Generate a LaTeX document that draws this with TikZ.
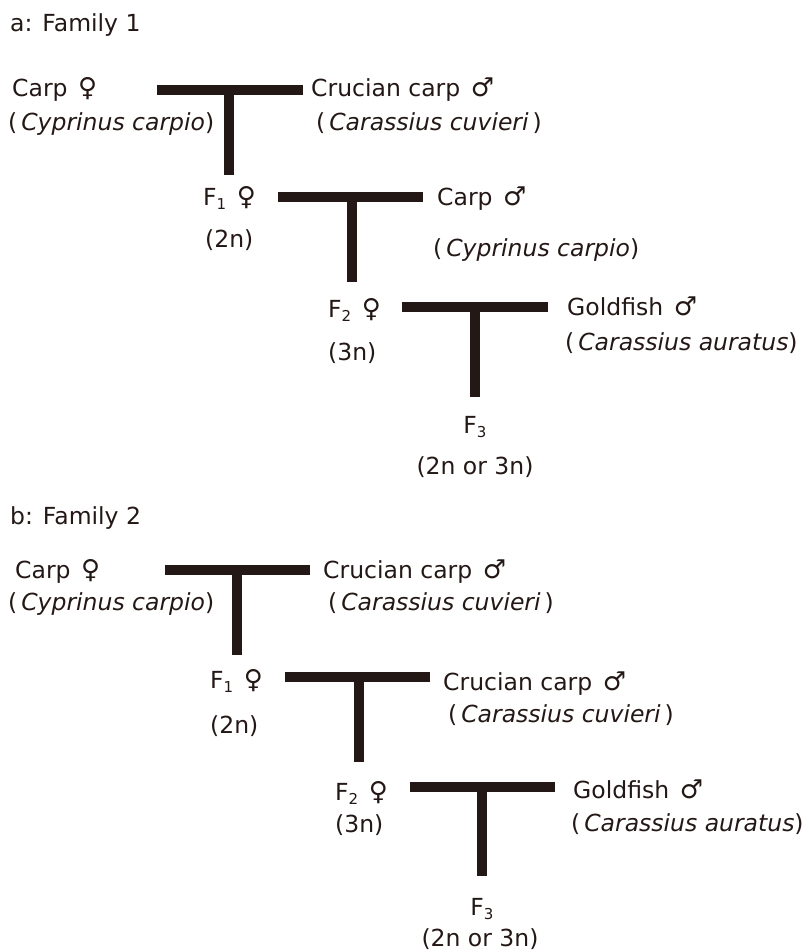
\documentclass[tikz,border=0pt]{standalone}
\usepackage{fontspec}
\setmainfont{DejaVu Sans}
\definecolor{ink}{RGB}{35,24,21}
\newcommand{\mysub}[1]{\raisebox{-0.35ex}{\fontsize{15}{15}\selectfont #1}}
\newcommand{\fem}{\hspace{0.45em}{\fontsize{26}{26}\selectfont ♀}}
\newcommand{\mal}{\hspace{0.45em}{\fontsize{26}{26}\selectfont ♂}}
\begin{document}
\begin{tikzpicture}[x=1pt,y=-1pt,
  lbl/.style={anchor=base west,inner sep=0pt,text=ink,font=\fontsize{23.5}{27}\selectfont},
  clbl/.style={anchor=base,inner sep=0pt,text=ink,font=\fontsize{23.5}{27}\selectfont},
  bar/.style={draw=ink,line width=9.5pt,line cap=butt}]
\useasboundingbox (0,0) rectangle (808,952);
% ---------- Family 1 ----------
\node[lbl] (ta) at (10,32) {a: Family 1};
\node[lbl] (a0f) at (12,97) {Carp\fem};
\node[lbl] (a0fs) at (8,131) {(\,\textit{Cyprinus carpio})};
\node[lbl] (a0m) at (311,97) {Crucian carp\mal};
\node[lbl] (a0ms) at (316,131) {(\,\textit{Carassius cuvieri}\,)};
\coordinate (a1L) at (157,90); \coordinate (a1R) at (303,90);
\coordinate (a1T) at (229,90); \coordinate (a1B) at (229,175);
\draw[bar] (a1L) -- (a1R); \draw[bar] (a1T) -- (a1B);
\node[lbl] (a1f) at (203,205) {F\mysub{1}\fem};
\node[lbl] (a1p) at (205,247) {(2n)};
\node[lbl] (a1m) at (437,205) {Carp\mal};
\node[lbl] (a1ms) at (433,256) {(\,\textit{Cyprinus carpio})};
\coordinate (a2L) at (278,197); \coordinate (a2R) at (423,197);
\coordinate (a2T) at (352,197); \coordinate (a2B) at (352,282);
\draw[bar] (a2L) -- (a2R); \draw[bar] (a2T) -- (a2B);
\node[lbl] (a2f) at (328,317) {F\mysub{2}\fem};
\node[lbl] (a2p) at (328,360) {(3n)};
\node[lbl] (a2m) at (567,315) {Goldfish\mal};
\node[lbl] (a2ms) at (565,350) {(\,\textit{Carassius auratus})};
\coordinate (a3L) at (402,307); \coordinate (a3R) at (548,307);
\coordinate (a3T) at (475,307); \coordinate (a3B) at (475,397);
\draw[bar] (a3L) -- (a3R); \draw[bar] (a3T) -- (a3B);
\node[clbl] (a3) at (475,433) {F\mysub{3}};
\node[clbl] (a3p) at (475,474) {(2n or 3n)};
% ---------- Family 2 ----------
\node[lbl] (tb) at (10,524) {b: Family 2};
\node[lbl] (b0f) at (15,578) {Carp\fem};
\node[lbl] (b0fs) at (8,610) {(\,\textit{Cyprinus carpio})};
\node[lbl] (b0m) at (323,578) {Crucian carp\mal};
\node[lbl] (b0ms) at (328,610) {(\,\textit{Carassius cuvieri}\,)};
\coordinate (b1L) at (165,570); \coordinate (b1R) at (310,570);
\coordinate (b1T) at (237,570); \coordinate (b1B) at (237,655);
\draw[bar] (b1L) -- (b1R); \draw[bar] (b1T) -- (b1B);
\node[lbl] (b1f) at (210,688) {F\mysub{1}\fem};
\node[lbl] (b1p) at (210,733) {(2n)};
\node[lbl] (b1m) at (443,690) {Crucian carp\mal};
\node[lbl] (b1ms) at (448,722) {(\,\textit{Carassius cuvieri}\,)};
\coordinate (b2L) at (285,677); \coordinate (b2R) at (430,677);
\coordinate (b2T) at (359,677); \coordinate (b2B) at (359,762);
\draw[bar] (b2L) -- (b2R); \draw[bar] (b2T) -- (b2B);
\node[lbl] (b2f) at (335,800) {F\mysub{2}\fem};
\node[lbl] (b2p) at (335,832) {(3n)};
\node[lbl] (b2m) at (573,798) {Goldfish\mal};
\node[lbl] (b2ms) at (571,831) {(\,\textit{Carassius auratus})};
\coordinate (b3L) at (410,787); \coordinate (b3R) at (555,787);
\coordinate (b3T) at (482,787); \coordinate (b3B) at (482,876);
\draw[bar] (b3L) -- (b3R); \draw[bar] (b3T) -- (b3B);
\node[clbl] (b3) at (482,915) {F\mysub{3}};
\node[clbl] (b3p) at (480,946) {(2n or 3n)};
\end{tikzpicture}
\end{document}
